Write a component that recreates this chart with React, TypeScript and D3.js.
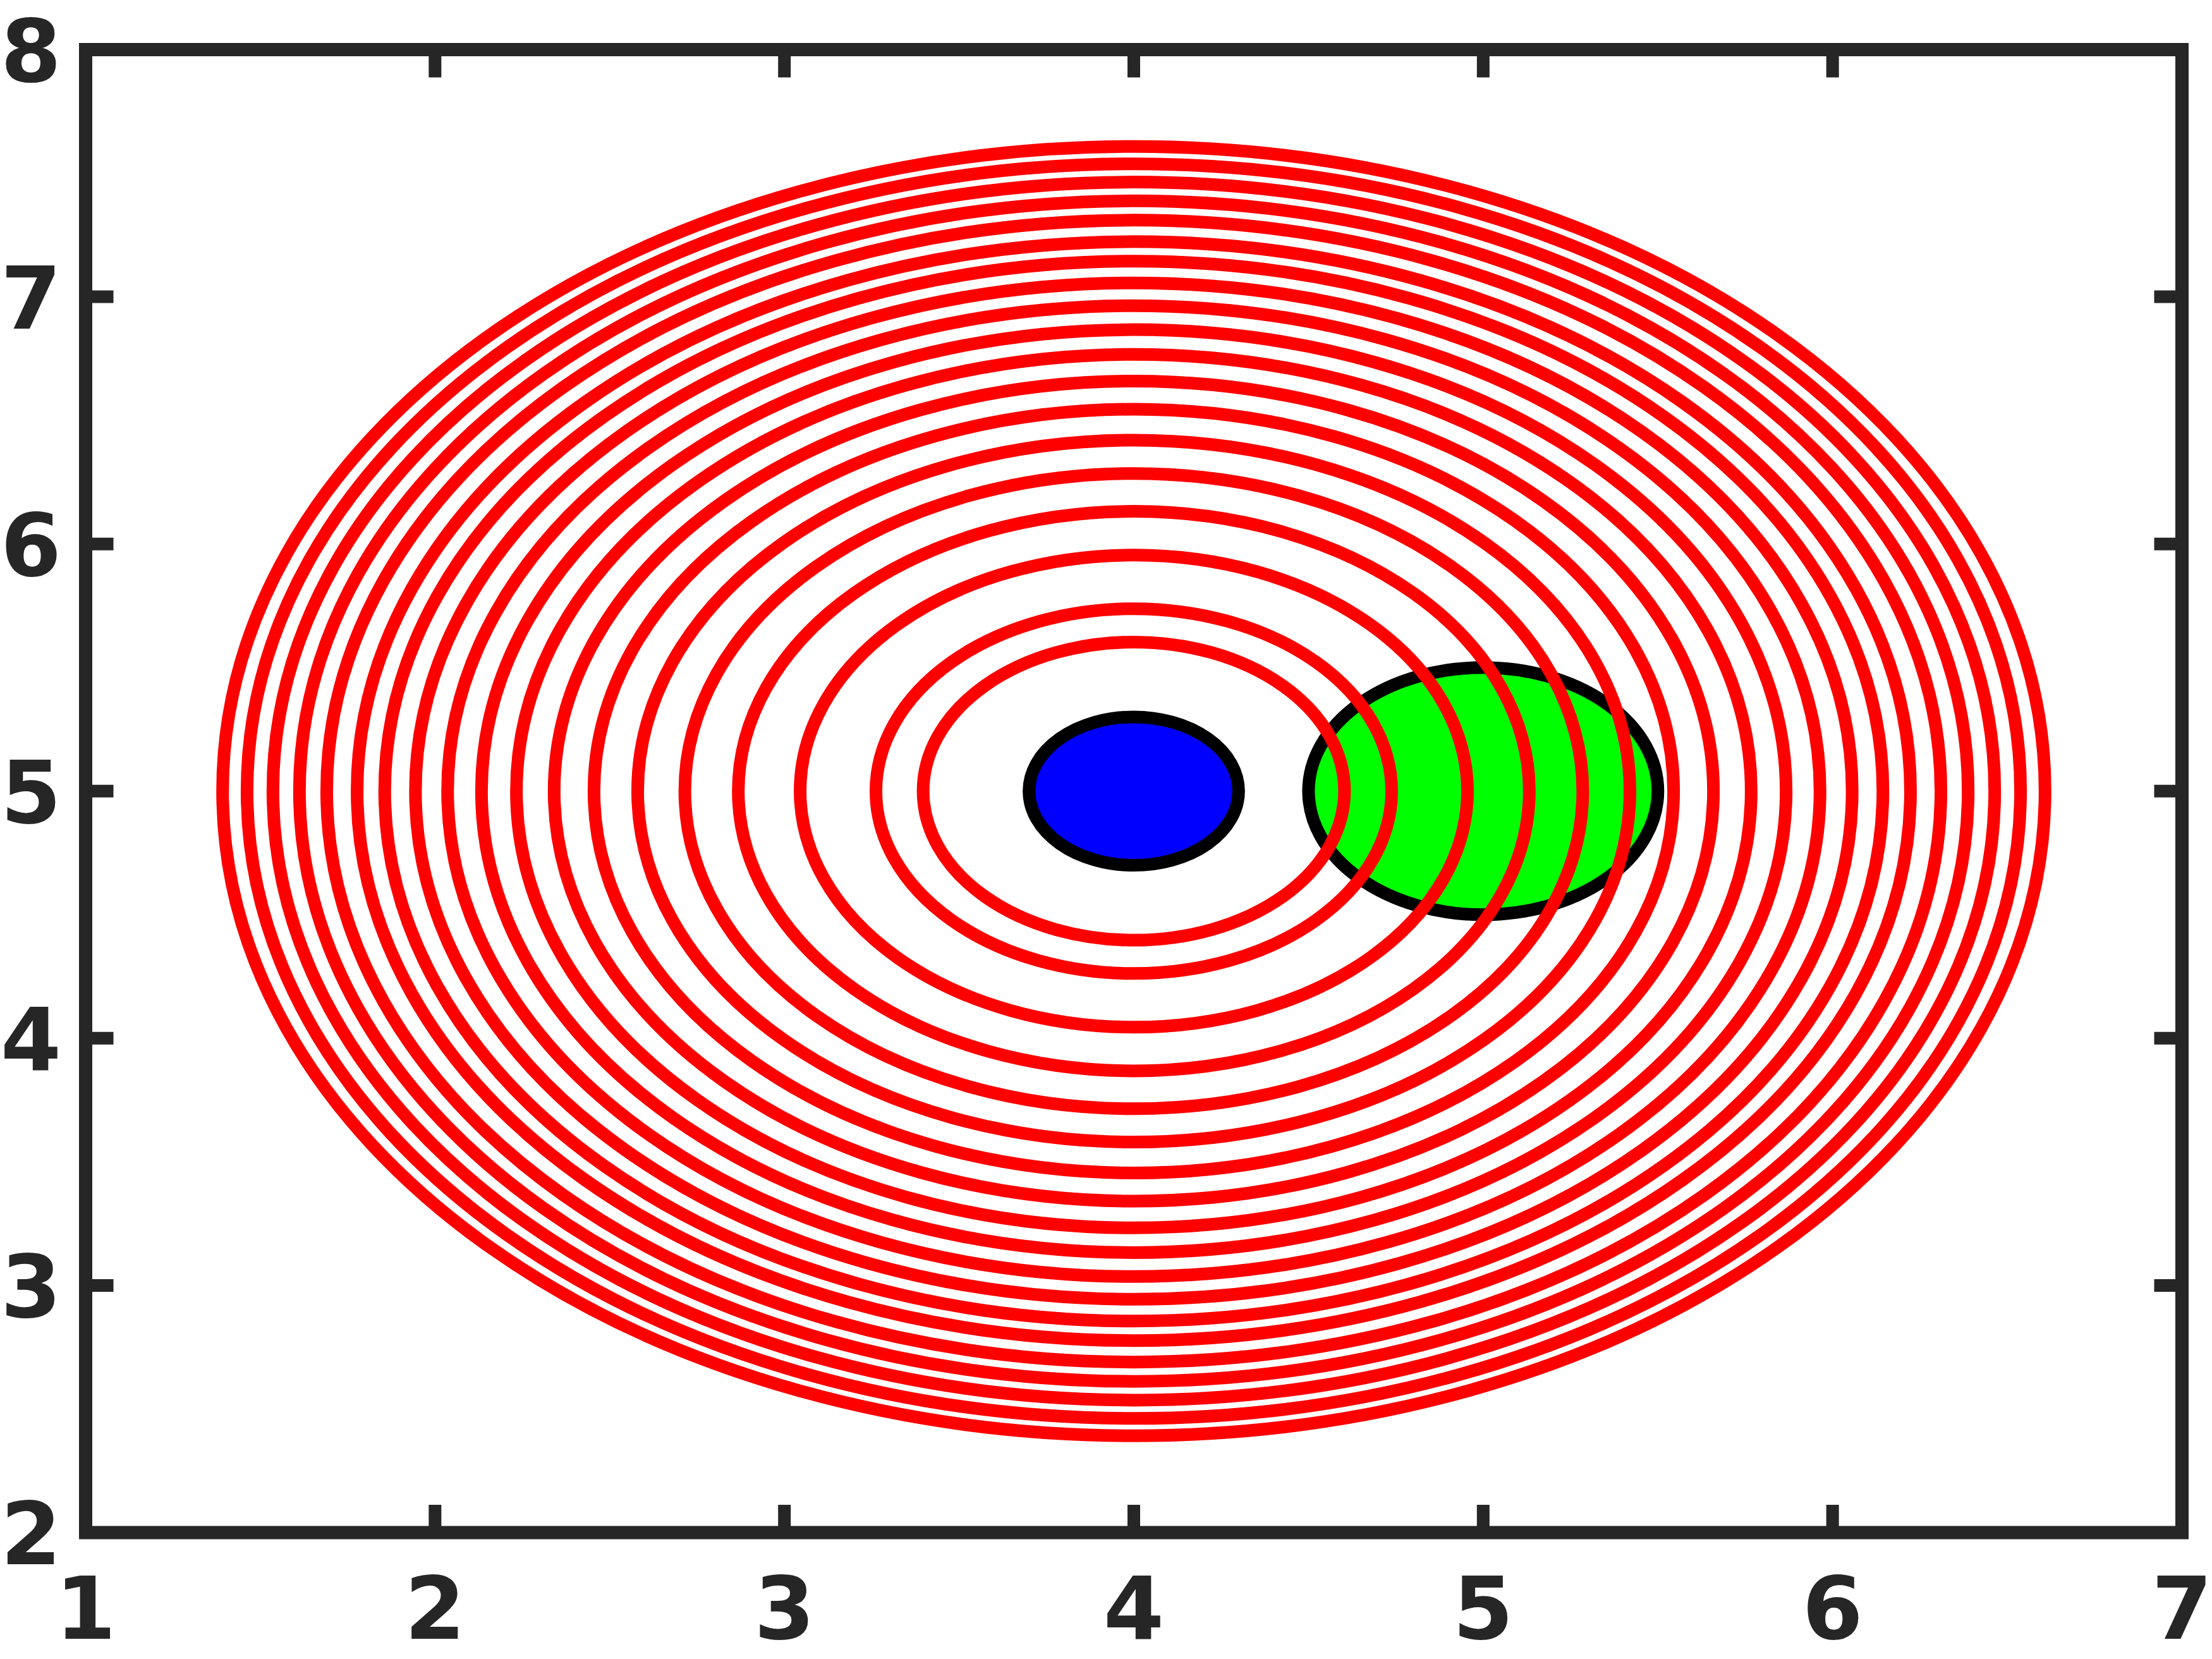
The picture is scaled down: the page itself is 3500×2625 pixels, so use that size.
import React from "react";
import * as d3 from "d3";

const xTicks = [1, 2, 3, 4, 5, 6, 7];
const yTicks = [2, 3, 4, 5, 6, 7, 8];
const contourCenter = { x: 4, y: 5 };
const contourRadii = [0.603, 0.738, 0.955, 1.132, 1.285, 1.42, 1.545, 1.659, 1.767, 1.867, 1.964, 2.056, 2.144, 2.223, 2.31, 2.388, 2.464, 2.538, 2.608];
const markers = [
  { name: "blue", x: 4, y: 5, r: 0.3, color: "#0000ff" },
  { name: "green", x: 5, y: 5, r: 0.5, color: "#00ff00" },
];

const W = 3500;
const H = 2625;
const left = 135.5;
const right = 3452.5;
const top = 78.5;
const bottom = 2425;
const axisColor = "#262626";

export default function App() {
  const x = d3.scaleLinear().domain([1, 7]).range([left, right]);
  const y = d3.scaleLinear().domain([2, 8]).range([bottom, top]);
  const fs = 138;
  const tickLen = 44;
  return (
    <svg width={W} height={H} style={{ position: "absolute", left: 0, top: 0, background: "#fff" }}>
      <rect x={0} y={0} width={W} height={H} fill="#fff" />
      <g>
        {markers.map((m) => (
          <ellipse
            key={m.name}
            cx={x(m.x)}
            cy={y(m.y)}
            rx={x(m.x + m.r) - x(m.x)}
            ry={y(m.y) - y(m.y + m.r)}
            fill={m.color}
            stroke="#000"
            strokeWidth={20}
          />
        ))}
      </g>
      <g>
        {contourRadii.map((r, i) => (
          <ellipse
            key={i}
            cx={x(contourCenter.x)}
            cy={y(contourCenter.y)}
            rx={x(contourCenter.x + r) - x(contourCenter.x)}
            ry={y(contourCenter.y) - y(contourCenter.y + r)}
            fill="none"
            stroke="#ff0000"
            strokeWidth={20}
          />
        ))}
      </g>
      <g stroke={axisColor} strokeWidth={20}>
        {xTicks.slice(1, -1).map((t) => (
          <g key={"xt" + t}>
            <line x1={x(t)} x2={x(t)} y1={bottom} y2={bottom - tickLen} />
            <line x1={x(t)} x2={x(t)} y1={top} y2={top + tickLen} />
          </g>
        ))}
        {yTicks.slice(1, -1).map((t) => (
          <g key={"yt" + t}>
            <line x1={left} x2={left + tickLen} y1={y(t)} y2={y(t)} />
            <line x1={right} x2={right - tickLen} y1={y(t)} y2={y(t)} />
          </g>
        ))}
        <rect x={left} y={top} width={right - left} height={bottom - top} fill="none" strokeWidth={21} />
      </g>
      <g fontFamily="DejaVu Sans" fontWeight="bold" fontSize={fs} fill={axisColor}>
        {xTicks.map((t) => (
          <text key={"xl" + t} x={x(t)} y={2593} textAnchor="middle">
            {t}
          </text>
        ))}
        {yTicks.map((t) => (
          <text key={"yl" + t} x={97} y={y(t) + 50} textAnchor="end">
            {t}
          </text>
        ))}
      </g>
    </svg>
  );
}
